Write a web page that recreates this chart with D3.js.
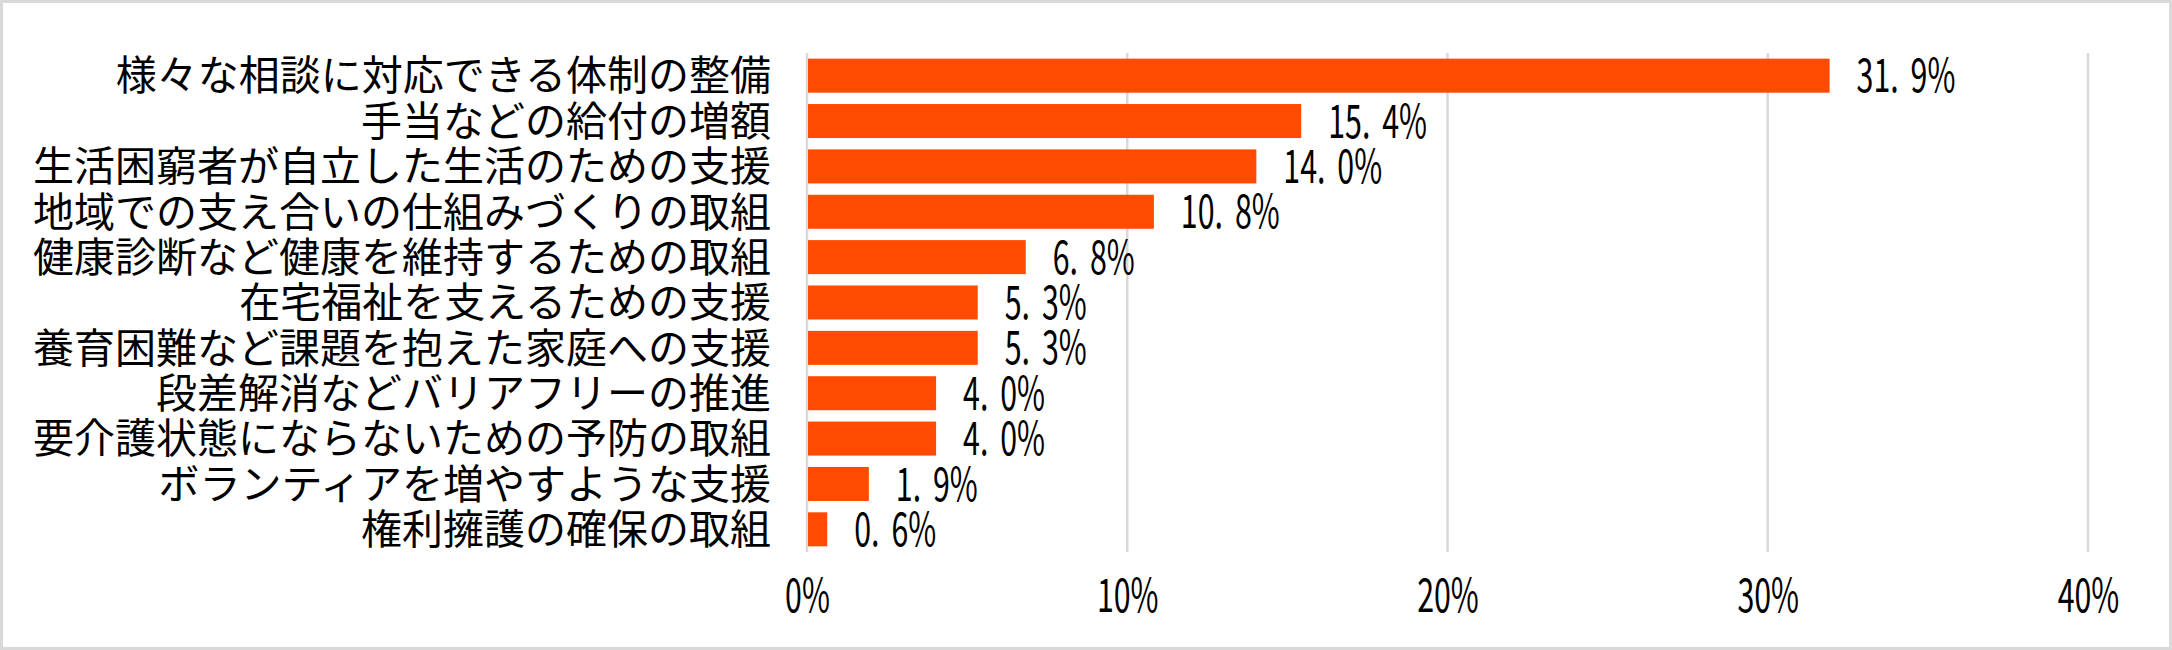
<!DOCTYPE html>
<html><head><meta charset="utf-8">
<script src="https://cdn.jsdelivr.net/npm/d3@7"></script>
<style>html,body{margin:0;padding:0;background:#fff;}svg{display:block;}</style>
</head><body>
<svg id="c" width="2172" height="650"></svg>
<script>
const categories = [
  "様々な相談に対応できる体制の整備",
  "手当などの給付の増額",
  "生活困窮者が自立した生活のための支援",
  "地域での支え合いの仕組みづくりの取組",
  "健康診断など健康を維持するための取組",
  "在宅福祉を支えるための支援",
  "養育困難など課題を抱えた家庭への支援",
  "段差解消などバリアフリーの推進",
  "要介護状態にならないための予防の取組",
  "ボランティアを増やすような支援",
  "権利擁護の確保の取組"
];
const values = [31.9, 15.4, 14.0, 10.8, 6.8, 5.3, 5.3, 4.0, 4.0, 1.9, 0.6];
const xTicks = [0, 10, 20, 30, 40];

(function(){
const svg = d3.select("#c");
const W = 2172, H = 650;
const pL = 807, pR = 2088, pT = 53, pB = 552;

svg.append("rect").attr("x",1.5).attr("y",1.5).attr("width",W-3).attr("height",H-3)
  .attr("fill","#fff").attr("stroke","#d9d9d9").attr("stroke-width",3);

const x = d3.scaleLinear().domain([0,40]).range([pL,pR]);
const y = d3.scaleBand().domain(categories).range([pT,pB]).paddingInner(0.25).paddingOuter(0.125);

// grid
svg.append("g").selectAll("line").data(xTicks).join("line")
  .attr("x1",d=>x(d)).attr("x2",d=>x(d)).attr("y1",pT).attr("y2",pB)
  .attr("stroke","#d9d9d9").attr("stroke-width",2.5);

// bars
svg.append("g").selectAll("rect").data(values).join("rect")
  .attr("x",x(0)+1).attr("y",(d,i)=>y(categories[i]))
  .attr("width",d=>x(d)-x(0)).attr("height",y.bandwidth())
  .attr("fill","#ff4b00");

const numFont = "'Noto Sans CJK JP', 'Noto Sans', sans-serif";
const sx = 0.66;

// value labels
const vl = svg.append("g").selectAll("text").data(values).join("text")
  .attr("transform",(d,i)=>`translate(${x(d)+28},${y(categories[i])+y.bandwidth()/2}) scale(${sx},1)`)
  .attr("dy","0.36em")
  .attr("font-family",numFont).attr("font-size",46).attr("fill","#000");
vl.each(function(d){
  const s = d.toFixed(1).split(".");
  const t = d3.select(this);
  t.append("tspan").text(s[0]+".");
  t.append("tspan").attr("dx",18).text(s[1]+"%");
});

// category labels
const yAxis = d3.axisLeft(y).tickSize(0).tickPadding(0);
const gy = svg.append("g").attr("transform",`translate(771,0)`).call(yAxis);
gy.select(".domain").remove();
gy.selectAll("text").attr("font-family","'Noto Sans CJK JP', sans-serif").attr("font-size",41)
  .attr("fill","#000").attr("dy","0.36em");

// x axis labels
const xAxis = d3.axisBottom(x).tickValues(xTicks).tickFormat(d=>d+"%").tickSize(0).tickPadding(0);
const gx = svg.append("g").attr("transform",`translate(0,580)`).call(xAxis);
gx.select(".domain").remove();
gx.selectAll(".tick text").attr("font-family",numFont).attr("font-size",46).attr("fill","#000")
  .attr("dy","0.7em").attr("transform",`scale(${sx},1)`);
})();
</script>
</body></html>
